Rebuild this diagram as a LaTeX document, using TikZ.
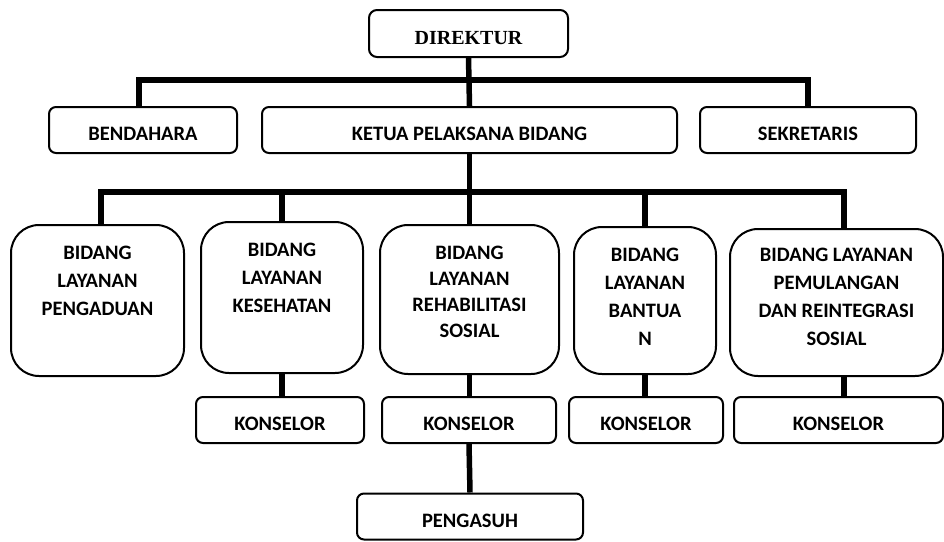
\documentclass[tikz,border=0pt]{standalone}
\usepackage{fontspec}
\setmainfont{Carlito}
\newfontfamily\timesfont{Liberation Serif}
\usepackage{tikz}

\tikzset{
  box/.style={draw, line width=2pt, rounded corners=7pt, inner sep=0pt,
    font=\bfseries\fontsize{20.5}{28}\selectfont, text height=21pt, text depth=0pt},
  bigbox/.style={draw, line width=2pt, rounded corners=28pt, inner sep=0pt},
  lbl/.style={align=center, anchor=north, yshift=-19pt,
    font=\bfseries\fontsize{20.5}{28}\selectfont},
  conn/.style={line width=5.5pt}
}

\begin{document}
\begin{tikzpicture}[x=1pt,y=-1pt]
\useasboundingbox (0,0) rectangle (944,541);

% pimpinan
\node[box, rounded corners=8pt, font=\timesfont\bfseries\fontsize{20}{24}\selectfont,
  minimum width=199pt, minimum height=47pt] (dir) at (468.5,33.5) {DIREKTUR};
\node[box, minimum width=188pt, minimum height=46pt] (bend) at (143,130) {BENDAHARA};
\node[box, minimum width=415pt, minimum height=46pt] (ketua) at (469.5,130) {KETUA PELAKSANA BIDANG};
\node[box, minimum width=216pt, minimum height=46pt] (sek) at (808,130) {SEKRETARIS};

% bidang
\node[bigbox, minimum width=173pt, minimum height=151pt,
  label={[lbl]north:{BIDANG\\LAYANAN\\PENGADUAN}}] (peng) at (97.5,300.5) {};
\node[bigbox, minimum width=162pt, minimum height=151pt,
  label={[lbl]north:{BIDANG\\LAYANAN\\KESEHATAN}}] (kes) at (282,297.5) {};
\node[bigbox, minimum width=179pt, minimum height=149pt,
  label={[lbl, font=\bfseries\fontsize{20.5}{26}\selectfont]north:{BIDANG\\LAYANAN\\REHABILITASI\\SOSIAL}}] (rehab) at (469.5,299.5) {};
\node[bigbox, minimum width=142pt, minimum height=147pt,
  label={[lbl]north:{BIDANG\\LAYANAN\\BANTUA\\N}}] (bant) at (645,300.5) {};
\node[bigbox, minimum width=213pt, minimum height=147pt,
  label={[lbl, yshift=2pt]north:{BIDANG LAYANAN\\PEMULANGAN\\DAN REINTEGRASI\\SOSIAL}}] (pemul) at (836.5,302.5) {};

% konselor
\node[box, minimum width=168pt, minimum height=46pt] (kons1) at (280,420) {KONSELOR};
\node[box, minimum width=174pt, minimum height=46pt] (kons2) at (469,420) {KONSELOR};
\node[box, minimum width=154pt, minimum height=46pt] (kons3) at (646,420) {KONSELOR};
\node[box, minimum width=209pt, minimum height=46pt] (kons4) at (838.5,420) {KONSELOR};
\node[box, minimum width=226pt, minimum height=46pt] (asuh) at (470,516.5) {PENGASUH};

% garis
\coordinate (bar1) at (468.5,80);
\coordinate (bar2) at (470,192);
\draw[conn] (dir.south) -- (ketua.north);
\draw[conn] ([xshift=-4pt]bend.north) |- (bar1) -| (sek.north);
\draw[conn] (ketua.south) -- (rehab.north);
\draw[conn] ([xshift=3.5pt]peng.north) |- (bar2) -| ([xshift=7.5pt]pemul.north);
\draw[conn] (kes.north) -- (kes.north |- bar2);
\draw[conn] (bant.north) -- (bant.north |- bar2);
\draw[conn] (kes.south) -- (kes.south |- kons1.north);
\draw[conn] (rehab.south) -- (rehab.south |- kons2.north);
\draw[conn] (bant.south) -- (bant.south |- kons3.north);
\draw[conn] ([xshift=7.5pt]pemul.south) -- ([xshift=7.5pt]pemul.south |- kons4.north);
\draw[conn] (kons2.south) -- (asuh.north);
\end{tikzpicture}
\end{document}
